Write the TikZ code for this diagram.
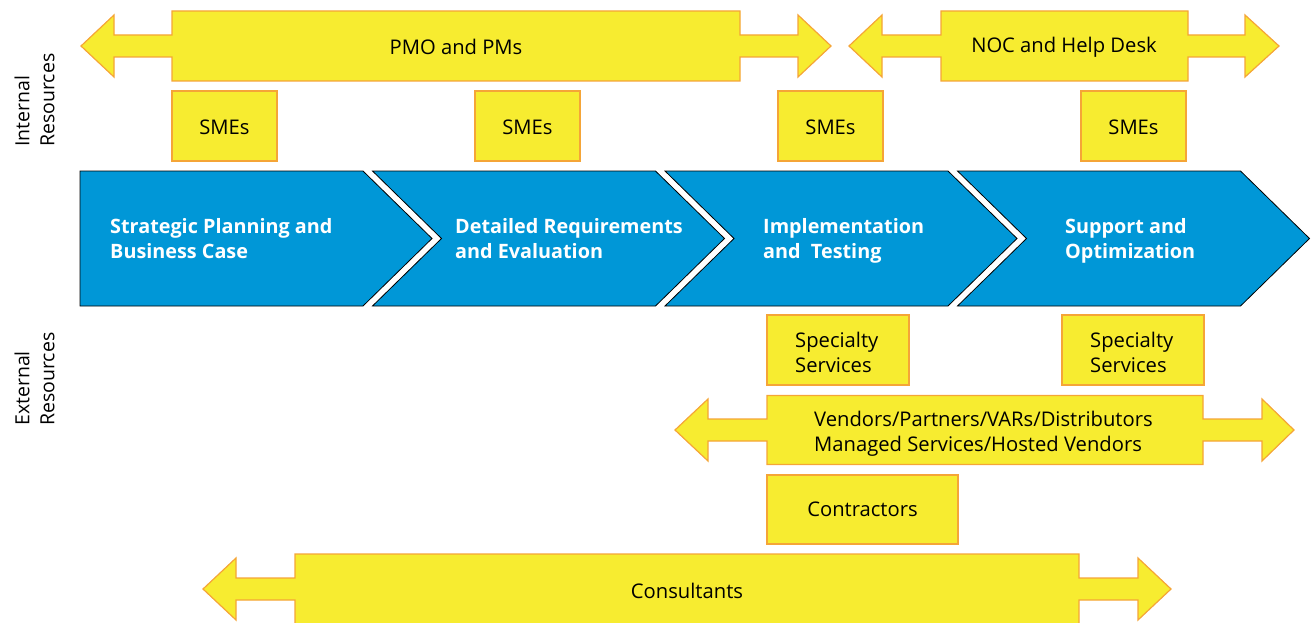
\documentclass[tikz,border=0pt]{standalone}
\usepackage{fontspec}
\setmainfont{Open Sans}
\begin{document}
\definecolor{ybox}{RGB}{247,236,48}
\definecolor{yedge}{RGB}{245,165,55}
\definecolor{phase}{RGB}{0,151,215}
\tikzset{
  ybox/.style={fill=ybox, draw=yedge, line width=1.2pt, line join=miter},
  chev/.style={fill=phase, draw=black, line width=0.8pt},
  lbl/.style={font=\fontsize{20.2}{25.5}\selectfont, text=black, inner sep=0pt},
  chevtxt/.style={font=\fontsize{19.8}{25.5}\selectfont\bfseries, text=white, align=left, anchor=west, inner sep=0pt},
  sidelbl/.style={font=\fontsize{19.5}{25}\selectfont, rotate=90, anchor=west, align=left, inner sep=0pt}
}
% double-headed yellow arrow with a wide middle box
% #1 left tip, #2 left head base, #3 box left, #4 box right, #5 right head base, #6 right tip, #7 axis y, #8 box half height
\newcommand\yarrow[8]{%
  \draw[ybox] ({#1},{#7}) -- ({#2},{#7-31}) -- ({#2},{#7-11}) -- ({#3},{#7-11}) -- ({#3},{#7-#8})
   -- ({#4},{#7-#8}) -- ({#4},{#7-11}) -- ({#5},{#7-11}) -- ({#5},{#7-31}) -- ({#6},{#7})
   -- ({#5},{#7+31}) -- ({#5},{#7+11}) -- ({#4},{#7+11}) -- ({#4},{#7+#8}) -- ({#3},{#7+#8})
   -- ({#3},{#7+11}) -- ({#2},{#7+11}) -- ({#2},{#7+31}) -- cycle;}
% chevron: #1 left x, #2 left notch depth (0 for flat)
\newcommand\chevron[2]{%
  \draw[chev] ({#1},171) -- ({#1+283},171) -- ({#1+352},238.5) -- ({#1+283},306) -- ({#1},306) -- ({#1+#2},238.5) -- cycle;}
\begin{tikzpicture}[x=1pt,y=-1pt]
\useasboundingbox (0,0) rectangle (1314,623);

% side labels
\node[sidelbl] (intl) at (34.5,147) {Internal\\Resources};
\node[sidelbl] (extl) at (34.5,426) {External\\Resources};

% internal resources
\yarrow{81}{114}{172}{740}{798}{831}{46}{35}
\node[lbl] (pmo) at (456,47) {PMO and PMs};
\yarrow{849}{882}{941}{1188}{1245}{1279}{46}{35}
\node[lbl] (noc) at (1064,47) {NOC and Help Desk};

\foreach \x/\n in {172/smeA,475/smeB,778/smeC,1081/smeD}{
  \draw[ybox] (\x,91) rectangle (\x+105,161);
  \node[lbl] (\n) at (\x+52.5,127) {SMEs};
}

% project phases
\chevron{80}{0}
\chevron{372.5}{69}
\chevron{665}{69}
\chevron{957.5}{69}
\node[chevtxt] (p1) at (110,241) {\strut Strategic Planning and\\\strut Business Case};
\node[chevtxt] (p2) at (455,241) {\strut Detailed Requirements\\\strut and Evaluation};
\node[chevtxt] (p3) at (763,241) {\strut Implementation\\\strut and\ \ Testing};
\node[chevtxt] (p4) at (1065,241) {\strut Support and\\\strut Optimization};

% external resources
\draw[ybox] (767,315) rectangle (909,385);
\node[lbl, align=left, anchor=west] (specA) at (795,352.5) {Specialty\\Services};
\draw[ybox] (1062,315) rectangle (1204,385);
\node[lbl, align=left, anchor=west] (specB) at (1090,352.5) {Specialty\\Services};

\yarrow{675}{708}{767}{1203}{1262}{1294}{430}{34.5}
\node[lbl, align=left, anchor=west] (vend) at (814,433.5) {Vendors/Partners/VARs/Distributors\\Managed Services/Hosted Vendors};

\draw[ybox] (767,475) rectangle (958,544);
\node[lbl] (contr) at (862.5,509.5) {Contractors};

\yarrow{203}{236}{295}{1079}{1138}{1171}{589}{35}
\node[lbl] (cons) at (687,591) {Consultants};
\end{tikzpicture}
\end{document}
